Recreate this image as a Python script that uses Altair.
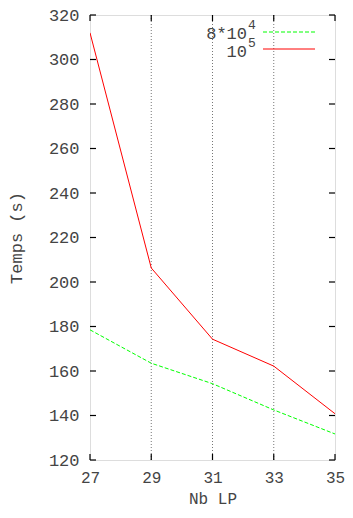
import altair as alt
import pandas as pd

nb_lp = [27, 29, 31, 33, 35]
t_8e4 = [178.5, 163.5, 154.3, 142.5, 131.7]
t_1e5 = [312, 206.3, 174.3, 162.2, 140.8]
x_ticks = [27, 29, 31, 33, 35]
y_ticks = [120, 140, 160, 180, 200, 220, 240, 260, 280, 300, 320]
grid_x = [29, 31, 33]

FONT = "Liberation Mono"
FS = 17
TC = "#444444"
W, H = 245, 445

df = pd.DataFrame({
    "x": nb_lp * 2,
    "y": t_8e4 + t_1e5,
    "s": ["8e4"] * len(nb_lp) + ["1e5"] * len(nb_lp),
})

xs = alt.Scale(domain=[27, 35], nice=False, zero=False)
ys = alt.Scale(domain=[120, 320], nice=False, zero=False)

common = dict(ticks=False, domain=False, grid=False, labelFont=FONT,
              labelColor=TC, titleFont=FONT, labelFlush=False,
              titleColor=TC, titleFontWeight="normal", format="d")

xaxis = alt.Axis(values=x_ticks, title="Nb LP", labelPadding=9, titlePadding=5,
                 labelFontSize=16, titleFontSize=16, **common)
yaxis = alt.Axis(values=y_ticks, title="Temps (s)", labelPadding=11, titlePadding=23,
                 labelFontSize=FS, titleFontSize=FS, **common)

grid = alt.Chart(pd.DataFrame({"x": grid_x})).mark_rule(
    color="#777777", strokeDash=[1, 2], strokeWidth=1
).encode(x=alt.X("x:Q", scale=xs, axis=xaxis), y=alt.value(0), y2=alt.value(H))

xt_df = pd.DataFrame({"x": x_ticks})
yt_df = pd.DataFrame({"y": y_ticks})
tick_style = dict(color="black", strokeWidth=1.2)
xt_bot = alt.Chart(xt_df).mark_rule(**tick_style).encode(
    x=alt.X("x:Q", scale=xs), y=alt.value(H), y2=alt.value(H - 6))
xt_top = alt.Chart(xt_df).mark_rule(**tick_style).encode(
    x=alt.X("x:Q", scale=xs), y=alt.value(0), y2=alt.value(6))
yt_l = alt.Chart(yt_df).mark_rule(**tick_style).encode(
    y=alt.Y("y:Q", scale=ys, axis=yaxis), x=alt.value(0), x2=alt.value(6))
yt_r = alt.Chart(yt_df).mark_rule(**tick_style).encode(
    y=alt.Y("y:Q", scale=ys), x=alt.value(W - 6), x2=alt.value(W))

green = alt.Chart(df[df.s == "8e4"]).mark_line(
    color="#00ff00", strokeDash=[4, 2], strokeWidth=1, clip=True
).encode(x=alt.X("x:Q", scale=xs), y=alt.Y("y:Q", scale=ys))
red = alt.Chart(df[df.s == "1e5"]).mark_line(
    color="#ff0000", strokeWidth=1, clip=True
).encode(x=alt.X("x:Q", scale=xs), y=alt.Y("y:Q", scale=ys))

# legend
leg = pd.DataFrame({"a": [0]})
def txt(t, x, y, size=FS, align="right"):
    return alt.Chart(leg).mark_text(text=t, font=FONT, fontSize=size, color=TC,
                                    align=align, baseline="middle").encode(
        x=alt.value(x), y=alt.value(y))

LX = 157
leg_layers = [
    txt("8*10", LX, 19),
    txt("4", LX + 1, 10, size=13, align="left"),
    txt("10", LX, 37),
    txt("5", LX + 1, 28, size=13, align="left"),
    alt.Chart(leg).mark_rule(color="#00ff00", strokeDash=[4, 2], strokeWidth=1).encode(
        x=alt.value(LX + 16), x2=alt.value(LX + 68), y=alt.value(17)),
    alt.Chart(leg).mark_rule(color="#ff0000", strokeWidth=1).encode(
        x=alt.value(LX + 16), x2=alt.value(LX + 68), y=alt.value(34)),
]

chart = alt.layer(grid, green, red, xt_bot, xt_top, yt_l, yt_r, *leg_layers).properties(
    width=W, height=H,
    autosize=alt.AutoSizeParams(type="none"),
    padding={"left": 82, "top": 7, "right": 10, "bottom": 48},
).configure_view(stroke="black", strokeWidth=1.2).configure(background="white")

chart.save("out.html", embed_options={"renderer": "svg", "actions": False})
